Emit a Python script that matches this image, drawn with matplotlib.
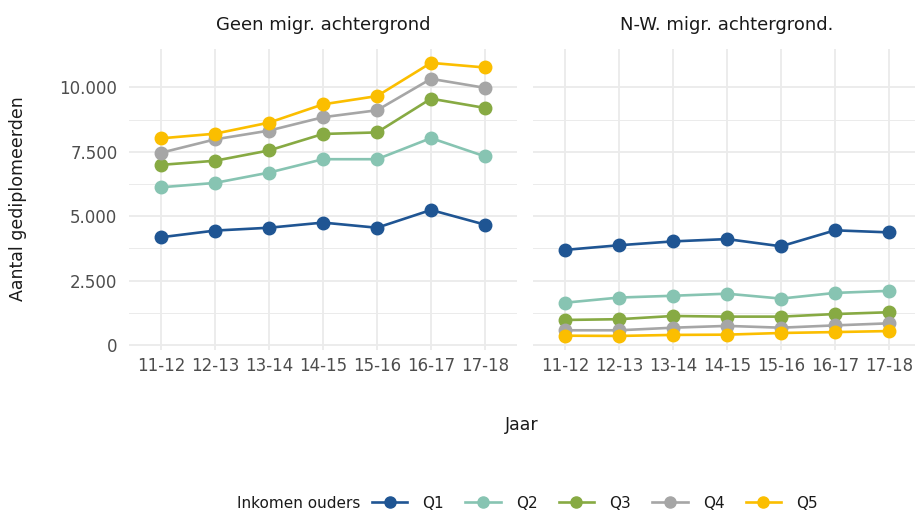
import numpy as np
import matplotlib.pyplot as plt
from matplotlib.lines import Line2D

jaren = ['11-12', '12-13', '13-14', '14-15', '15-16', '16-17', '17-18']
panels = ['Geen migr. achtergrond', 'N-W. migr. achtergrond.']
groepen = ['Q1', 'Q2', 'Q3', 'Q4', 'Q5']
kleuren = ['#1F5593', '#87C4B2', '#87AA43', '#A6A6A6', '#FBBE00']

# Geen migratieachtergrond
geen_q1 = [4180, 4440, 4550, 4750, 4550, 5240, 4670]
geen_q2 = [6120, 6290, 6690, 7210, 7210, 8030, 7320]
geen_q3 = [6990, 7150, 7550, 8190, 8250, 9560, 9200]
geen_q4 = [7460, 7980, 8320, 8840, 9110, 10330, 9980]
geen_q5 = [8020, 8200, 8630, 9340, 9660, 10950, 10770]

# Niet-westerse migratieachtergrond
nw_q1 = [3690, 3870, 4020, 4110, 3830, 4450, 4370]
nw_q2 = [1640, 1840, 1910, 1990, 1800, 2020, 2100]
nw_q3 = [970, 1000, 1125, 1100, 1100, 1200, 1270]
nw_q4 = [570, 570, 670, 740, 670, 760, 840]
nw_q5 = [360, 350, 390, 400, 465, 500, 540]

data = [[geen_q1, geen_q2, geen_q3, geen_q4, geen_q5],
        [nw_q1, nw_q2, nw_q3, nw_q4, nw_q5]]

W, H = 915, 511
fig = plt.figure(figsize=(W / 100, H / 100), dpi=100)

bottom = 1 - 349.6 / H
height = (349.6 - 49.2) / H
lefts = [128.6 / W, 532.6 / W]
width = (517.4 - 128.6) / W

x = np.arange(len(jaren))
yticks = [0, 2500, 5000, 7500, 10000]
ylabels = ['0', '2.500', '5.000', '7.500', '10.000']

for i, (naam, reeksen) in enumerate(zip(panels, data)):
    ax = fig.add_axes([lefts[i], bottom, width, height])
    for vals, kleur in zip(reeksen, kleuren):
        ax.plot(x, vals, '-o', color=kleur, lw=1.9, ms=9, zorder=3)
    ax.set_xlim(-0.6, 6.6)
    ax.set_ylim(-180, 11480)
    ax.set_xticks(x)
    ax.set_xticklabels(jaren, fontsize=12, color='#4D4D4D')
    ax.set_yticks(yticks)
    ax.set_yticks([1250, 3750, 6250, 8750], minor=True)
    if i == 0:
        ax.set_yticklabels(ylabels, fontsize=12, color='#4D4D4D')
    else:
        ax.set_yticklabels([])
    ax.tick_params(axis='both', which='both', length=0)
    ax.tick_params(axis='x', pad=5)
    ax.tick_params(axis='y', pad=8)
    ax.grid(True, which='major', color='#EBEBEB', lw=1.3, zorder=0)
    ax.grid(True, which='minor', axis='y', color='#EBEBEB', lw=0.7, zorder=0)
    for s in ax.spines.values():
        s.set_visible(False)
    cx = (lefts[i] + width / 2)
    fig.text(cx, 1 - 25 / H, naam, ha='center', va='center', fontsize=13, color='#1A1A1A')

fig.text(18 / W, 1 - 199 / H, 'Aantal gediplomeerden', rotation=90, ha='center', va='center',
         fontsize=12.5, color='#1A1A1A')
fig.text(522 / W, 1 - 425 / H, 'Jaar', ha='center', va='center', fontsize=12.5, color='#1A1A1A')

# legenda
fig.text(237 / W, 1 - 503 / H, 'Inkomen ouders', ha='left', va='center', fontsize=11, color='#1A1A1A')
handles = [Line2D([0], [0], color=k, lw=1.9, marker='o', ms=8) for k in kleuren]
fig.legend(handles, groepen, loc='center left', bbox_to_anchor=(372 / W, 1 - 503 / H),
           ncol=5, frameon=False, fontsize=11, handlelength=2.3, columnspacing=1.4,
           handletextpad=1.0, borderaxespad=0, borderpad=0, labelcolor='#1A1A1A')

fig.savefig('out.png', dpi=100)
